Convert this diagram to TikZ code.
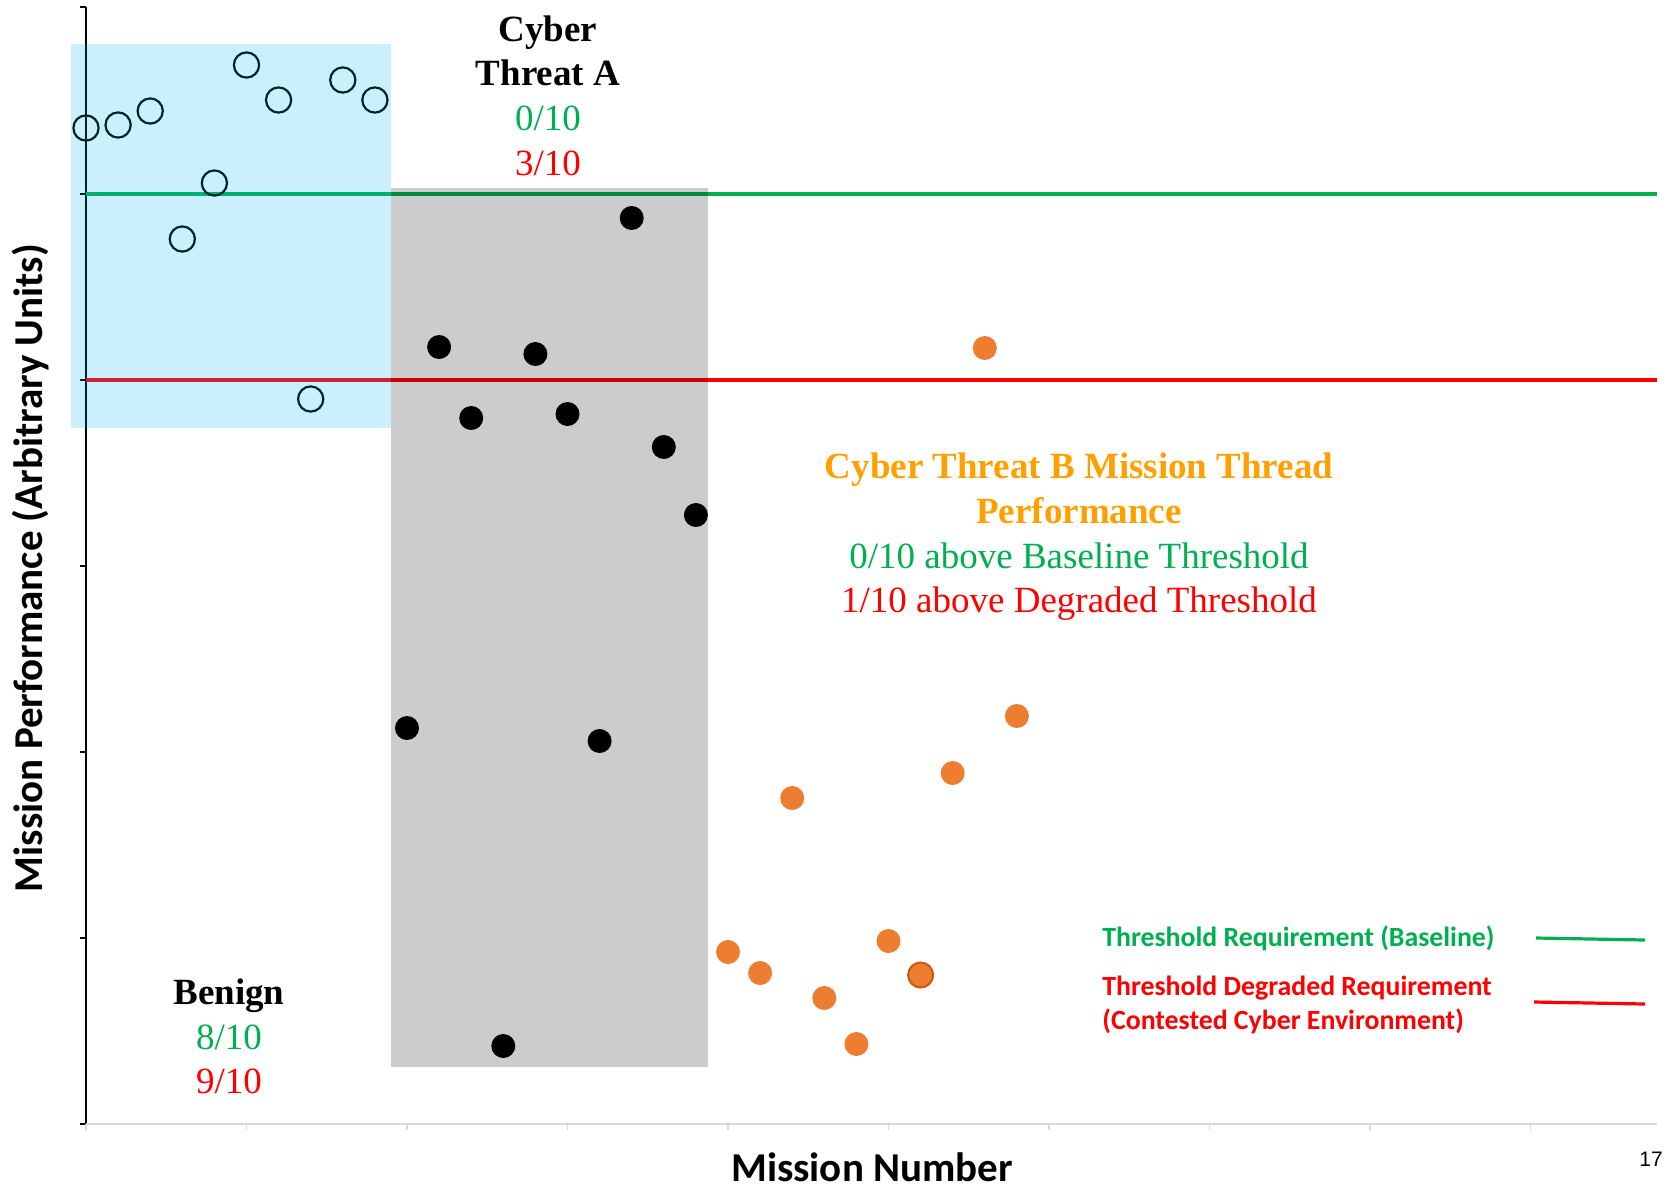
\documentclass[tikz,border=0pt]{standalone}
\usepackage{fontspec}
\setmainfont{Liberation Serif}
\setsansfont{Carlito}
\newfontfamily\slidenumfont{Liberation Sans}
\usepackage{tikz}
\usetikzlibrary{positioning}
\definecolor{baseGreen}{RGB}{0,176,80}
\definecolor{degRed}{RGB}{255,0,0}
\definecolor{threatOrange}{RGB}{255,160,0}
\definecolor{dotOrange}{RGB}{237,125,49}
\definecolor{rimOrange}{RGB}{197,90,17}
\definecolor{zoneBlue}{RGB}{0,176,240}
\definecolor{axisGray}{RGB}{217,217,217}
\tikzset{
  benign/.style={circle, draw=black, line width=1.1pt, minimum size=12.6pt, inner sep=0pt},
  threatApt/.style={circle, fill=black, minimum size=12pt, inner sep=0pt},
  threatBpt/.style={circle, fill=dotOrange, minimum size=12pt, inner sep=0pt},
  zone/.style={fill opacity=0.2},
  reqline/.style={line width=1.6pt},
  tally/.style={anchor=base, font=\fontsize{18.5}{22}\selectfont},
  tallyhead/.style={anchor=base, font=\bfseries\fontsize{18.5}{22}\selectfont},
  legendtext/.style={anchor=base west, inner sep=0pt, font=\sffamily\bfseries\fontsize{13.9}{16}\selectfont},
  axistitle/.style={anchor=base, font=\sffamily\bfseries\fontsize{20.5}{24}\selectfont}
}
\begin{document}
\begin{tikzpicture}[x=0.5pt, y=-0.5pt]
\useasboundingbox (0,0) rectangle (1669,1189);

\draw[line width=1pt] (86,7) -- (86,1124);
\foreach \t in {7,194,380,566,752,938,1124}
  \draw[line width=1pt] (80,\t) -- (86,\t);
\draw[axisGray, line width=1pt] (86,1124) -- (1657,1124);
\foreach \k in {0,...,9}
  \draw[axisGray, line width=0.8pt] ({86+160.5*\k},1124) -- ({86+160.5*\k},1130);

\draw[reqline, baseGreen] (86,194) -- (1657,194);
\draw[reqline, degRed] (86,380) -- (1657,380);

\foreach \m/\v in {1/128,2/125,3/111,4/239,5/183,6/65,7/100,8/399,9/80,10/100}
  \node[benign] (b\m) at ({86+32.1*(\m-1)},\v) {};
\foreach \m/\v in {11/728,12/347,13/418,14/1046,15/354,16/414,17/741,18/218,19/447,20/515}
  \node[threatApt] (a\m) at ({86+32.1*(\m-1)},\v) {};
\foreach \m/\v in {21/952,22/973,23/798,24/998,25/1044,26/941,27/975,28/773,29/348,30/716}
  \node[threatBpt] (c\m) at ({86+32.1*(\m-1)},\v) {};
\node[threatBpt, draw=rimOrange, line width=1pt, minimum size=12.5pt] at (c27) {};

\fill[zone, zoneBlue] (71,44) rectangle (391,428);
\fill[zone, black] (391,188) rectangle (708,1067);

\node[tallyhead] (cyberA) at (548,41) {Cyber};
\node[tallyhead] (threatA) at (548,85) {Threat A};
\node[tally, text=baseGreen] (aBase) at (548,130) {0/10};
\node[tally, text=degRed] (aDeg) at (548,175) {3/10};

\node[tallyhead] (benignT) at (229,1004) {Benign};
\node[tally, text=baseGreen] (bBase) at (229,1049) {8/10};
\node[tally, text=degRed] (bDeg) at (229,1093) {9/10};

\node[tallyhead, text=threatOrange] (threatB) at (1079,478) {Cyber Threat B Mission Thread};
\node[tallyhead, text=threatOrange] (threatB2) at (1079,523) {Performance};
\node[tally, text=baseGreen] (cBase) at (1079,568) {0/10 above Baseline Threshold};
\node[tally, text=degRed] (cDeg) at (1079,612) {1/10 above Degraded Threshold};

\node[legendtext, text=baseGreen] (legBase) at (1102,946) {Threshold Requirement (Baseline)};
\node[legendtext, text=degRed] (legDeg) at (1102,995) {Threshold Degraded Requirement};
\node[legendtext, text=degRed] (legDeg2) at (1102,1029) {(Contested Cyber Environment)};
\draw[reqline, baseGreen] (1536,938) -- (1645,940);
\draw[reqline, degRed] (1534,1002) -- (1645,1004);

\node[axistitle] (xtitle) at (872,1181) {Mission Number};
\node[axistitle, rotate=90] (ytitle) at (42,568) {Mission Performance (Arbitrary Units)};
\node[font=\slidenumfont\fontsize{10.5}{12}\selectfont] (pagenum) at (1651,1159) {17};
\end{tikzpicture}
\end{document}
